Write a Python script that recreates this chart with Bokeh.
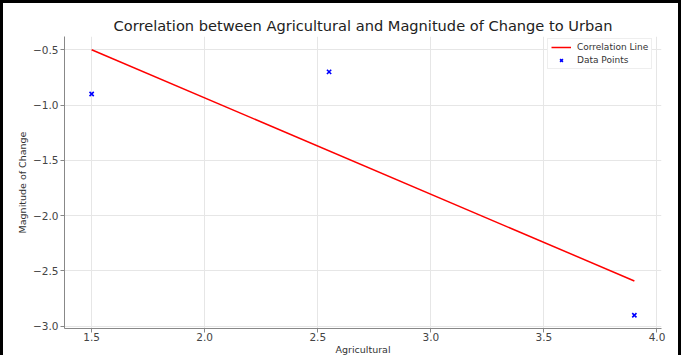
from bokeh.plotting import figure
from bokeh.embed import file_html
from bokeh.resources import INLINE
from bokeh.models import FixedTicker, CustomJSTickFormatter, Range1d, Legend, LegendItem

# Data
agricultural = [1.5, 2.55, 3.9]
magnitude = [-0.9, -0.7, -2.9]
line_x = [1.5, 3.9]
line_y = [-0.5, -2.59]
x_ticks = [1.5, 2.0, 2.5, 3.0, 3.5, 4.0]
y_ticks = [-3.0, -2.5, -2.0, -1.5, -1.0, -0.5]

p = figure(width=675, height=352, output_backend="svg", toolbar_location=None,
           x_range=Range1d(1.38, 4.02), y_range=Range1d(-3.02, -0.38),
           title="Correlation between Agricultural and Magnitude of Change to Urban",
           min_border_left=61, min_border_right=23, min_border_top=33, min_border_bottom=30)

p.styles = {"box-sizing": "content-box",
            "border-left": "3px solid #000", "border-top": "3px solid #000",
            "border-right": "3px solid #000"}

font = "DejaVu Sans"
p.title.text_font = font
p.title.text_font_size = "14.6px"
p.title.text_font_style = "normal"
p.title.text_color = "#222222"
p.title.align = "center"
p.title.standoff = 5

p.outline_line_color = None
for ax in (p.xaxis[0], p.yaxis[0]):
    ax.axis_line_color = "#888888"
    ax.major_tick_line_color = "#888888"
    ax.major_tick_out = 4
    ax.major_tick_in = 0
    ax.minor_tick_line_color = None
    ax.major_label_text_font = font
    ax.major_label_text_font_size = "10.5px"
    ax.major_label_text_color = "#444444"
    ax.axis_label_text_font = font
    ax.axis_label_text_font_size = "9.5px"
    ax.axis_label_text_font_style = "normal"
    ax.axis_label_text_color = "#333333"
p.xaxis[0].major_label_standoff = 0
p.xaxis[0].axis_label_standoff = 0
p.yaxis[0].major_label_standoff = 2
p.yaxis[0].axis_label_standoff = 2

p.xaxis[0].ticker = FixedTicker(ticks=x_ticks)
p.yaxis[0].ticker = FixedTicker(ticks=y_ticks)
p.xaxis[0].formatter = CustomJSTickFormatter(code="return tick.toFixed(1).replace('-', '\u2212');")
p.yaxis[0].formatter = CustomJSTickFormatter(code="return tick.toFixed(1).replace('-', '\u2212');")
p.xaxis[0].axis_label = "Agricultural"
p.yaxis[0].axis_label = "Magnitude of Change"

p.xgrid.grid_line_color = "#e6e6e6"
p.ygrid.grid_line_color = "#e6e6e6"

l = p.line(line_x, line_y, line_color="#ff0000", line_width=1.5)
s = p.scatter(agricultural, magnitude, marker="x", size=6, line_color="#0000ff", line_width=1.6)

legend = Legend(items=[LegendItem(label="Correlation Line", renderers=[l]),
                       LegendItem(label="Data Points", renderers=[s])],
                location=(483, 259))
legend.label_text_font = font
legend.label_text_font_size = "9px"
legend.label_text_color = "#333333"
legend.glyph_width = 20
legend.glyph_height = 10
legend.label_height = 10
legend.spacing = 3
legend.padding = 3
legend.margin = 0
legend.border_line_color = "#dddddd"
legend.label_standoff = 6
p.add_layout(legend)

open("out.html", "w").write(file_html(p, INLINE))
